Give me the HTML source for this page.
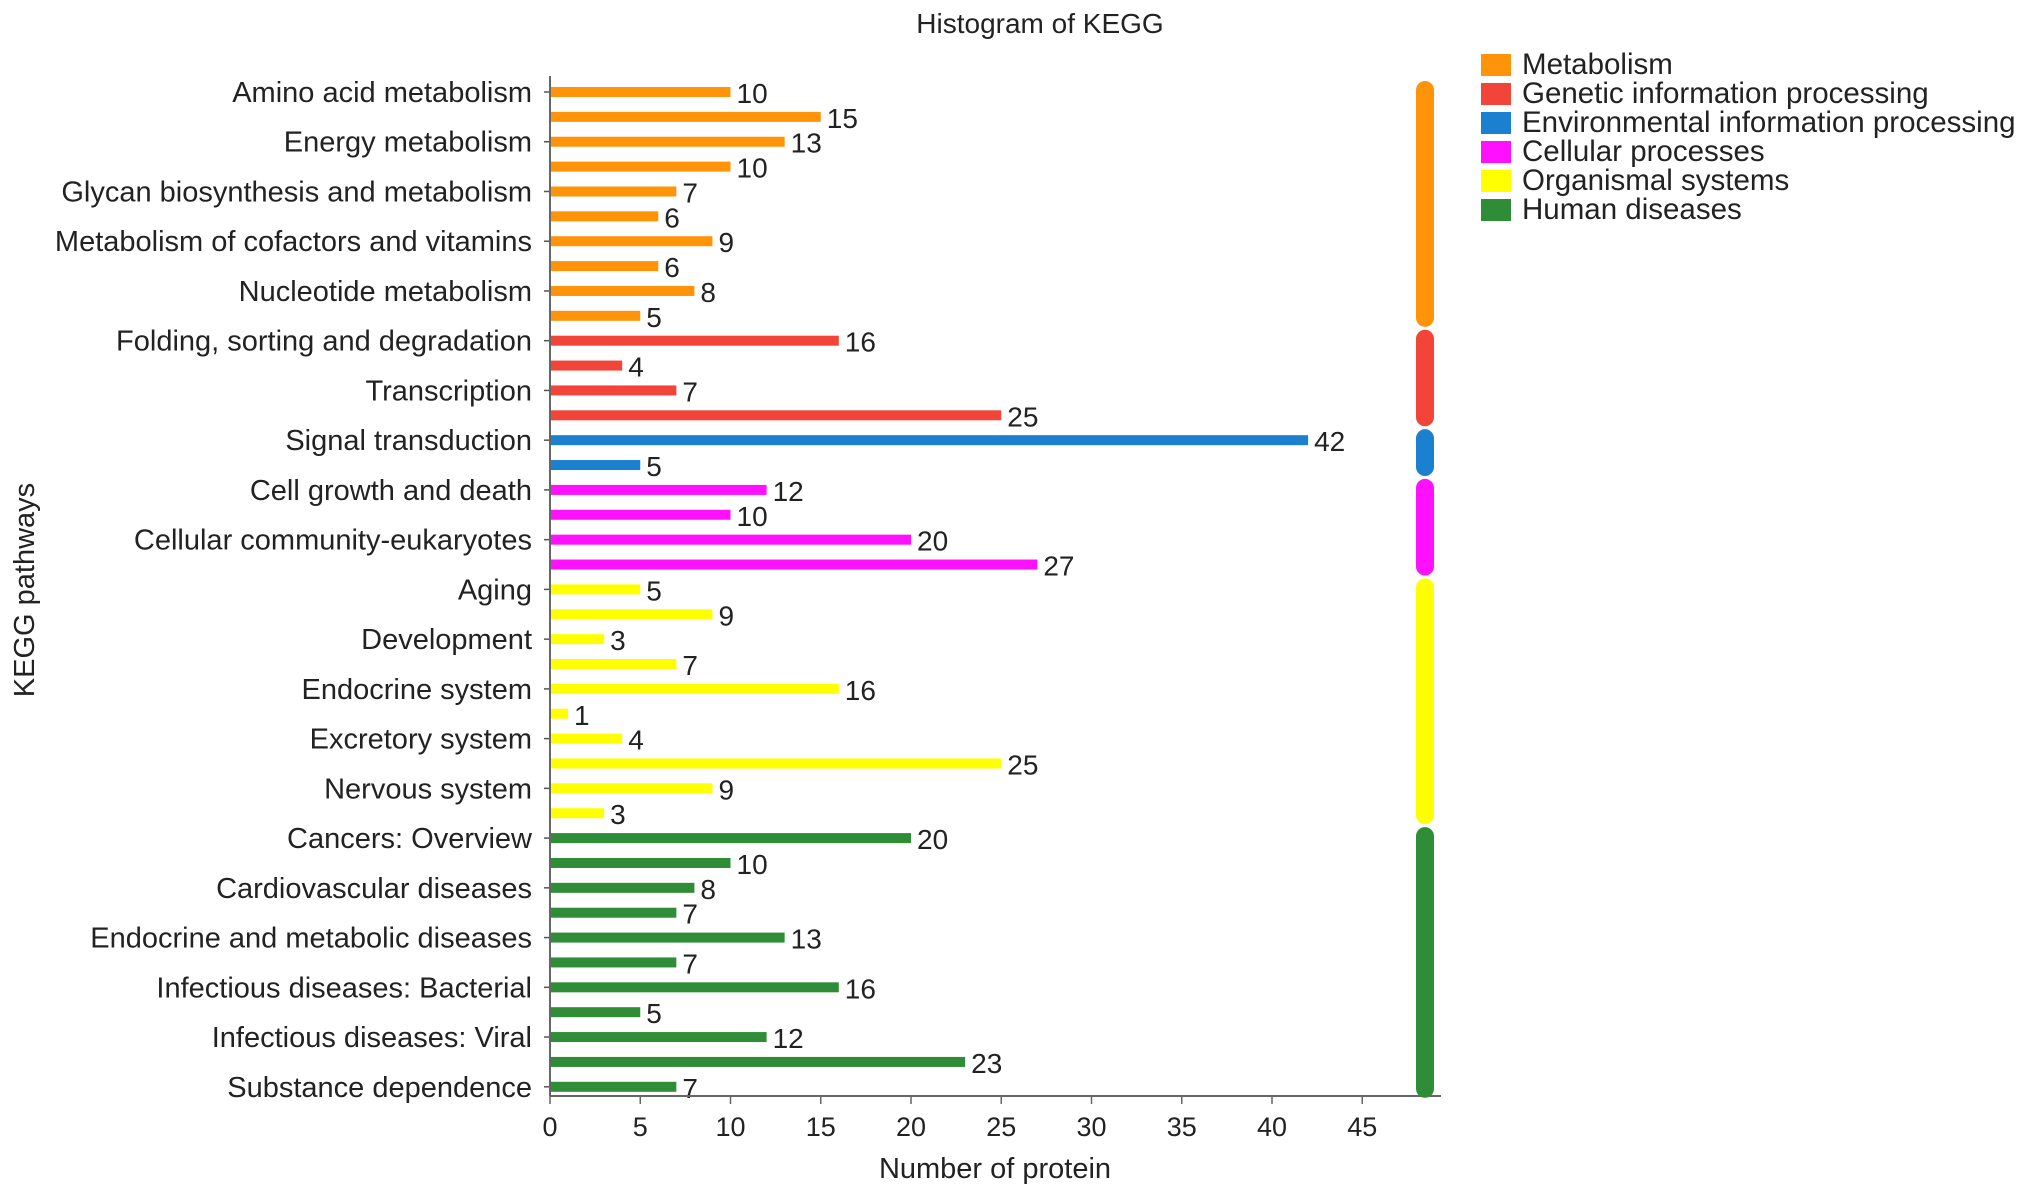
<!DOCTYPE html>
<html><head><meta charset="utf-8"><style>
html,body{margin:0;padding:0;background:#fff;}
svg{display:block;font-family:"Liberation Sans",Arial,sans-serif;}
</style></head><body>
<svg id="chart" width="2032" height="1196" viewBox="0 0 2032 1196" xmlns="http://www.w3.org/2000/svg">
<rect width="2032" height="1196" fill="#fff"/>
<text x="1040" y="33" font-size="28" text-anchor="middle" fill="#222">Histogram of KEGG</text>
<text transform="translate(34,590) rotate(-90)" font-size="29" text-anchor="middle" fill="#222">KEGG pathways</text>
<text x="995" y="1178" font-size="29" text-anchor="middle" fill="#222">Number of protein</text>
<g id="plot"></g>
</svg>
<script>
const groups = ["Metabolism","Genetic information processing","Environmental information processing","Cellular processes","Organismal systems","Human diseases"];
const groupColors = ["#ff930a","#f2453a","#1b80d0","#ff10ff","#ffff00","#2f8c37"];
const groupSizes = [10,4,2,4,10,11];
const values = [10,15,13,10,7,6,9,6,8,5, 16,4,7,25, 42,5, 12,10,20,27, 5,9,3,7,16,1,4,25,9,3, 20,10,8,7,13,7,16,5,12,23,7];
const labels = ["Amino acid metabolism","","Energy metabolism","","Glycan biosynthesis and metabolism","","Metabolism of cofactors and vitamins","","Nucleotide metabolism","",
"Folding, sorting and degradation","","Transcription","",
"Signal transduction","",
"Cell growth and death","","Cellular community-eukaryotes","",
"Aging","","Development","","Endocrine system","","Excretory system","","Nervous system","",
"Cancers: Overview","","Cardiovascular diseases","","Endocrine and metabolic diseases","","Infectious diseases: Bacterial","","Infectious diseases: Viral","","Substance dependence"];
const xTicks = [0,5,10,15,20,25,30,35,40,45];

const NS="http://www.w3.org/2000/svg";
const g=document.getElementById('plot');
const X0=550, PX=18.05, Y0=92, STEP=24.87, BH=10, AXB=1096, AXT=76, AXR=1441;
const xs=v=>X0+v*PX;
const ys=i=>Y0+i*STEP;
function mk(tag,attrs){const e=document.createElementNS(NS,tag);for(const k in attrs)e.setAttribute(k,attrs[k]);g.appendChild(e);return e;}

let gi=[];groupSizes.forEach((n,k)=>{for(let j=0;j<n;j++)gi.push(k);});
values.forEach((v,i)=>{
  const r=mk('rect',{x:xs(0),y:ys(i)-BH/2,width:xs(v)-xs(0),height:BH,fill:groupColors[gi[i]]});
  
  
  const t=mk('text',{x:xs(v)+6,y:ys(i)+11,'font-size':28,fill:'#222'});
  t.textContent=v;
  
  
  if(labels[i]){
    const tk=mk('line',{x1:X0-6,x2:X0,y1:ys(i),y2:ys(i),stroke:'#555','stroke-width':1.5});
    
    
    const l=mk('text',{x:X0-18,y:ys(i)+10,'font-size':29,'text-anchor':'end',fill:'#222'});
    l.textContent=labels[i];
    
    
  }
});
const ya=mk('line',{x1:X0,x2:X0,y1:AXT,y2:AXB,stroke:'#666','stroke-width':2});


const xa=mk('line',{x1:X0,x2:AXR,y1:AXB,y2:AXB,stroke:'#666','stroke-width':2});


xTicks.forEach(v=>{
  const tk=mk('line',{x1:xs(v),x2:xs(v),y1:AXB,y2:AXB+8,stroke:'#666','stroke-width':1.5});
  
  
  const t=mk('text',{x:xs(v),y:AXB+40,'font-size':27,'text-anchor':'middle',fill:'#222'});
  t.textContent=v;
  
  
});
let start=0;
groupSizes.forEach((n,k)=>{
  const top=ys(start)-11, bot=ys(start+n-1)+11;
  const r=mk('rect',{x:1416,y:top,width:18,height:bot-top,rx:9,ry:9,fill:groupColors[k]});
  
  
  start+=n;
});
groups.forEach((name,k)=>{
  const y=54+k*29;
  const s=mk('rect',{x:1481,y:y,width:30,height:22,fill:groupColors[k]});
  
  
  const t=mk('text',{x:1522,y:y+20,'font-size':29.5,fill:'#222'});
  t.textContent=name;
  
  
});
</script>
</body></html>
